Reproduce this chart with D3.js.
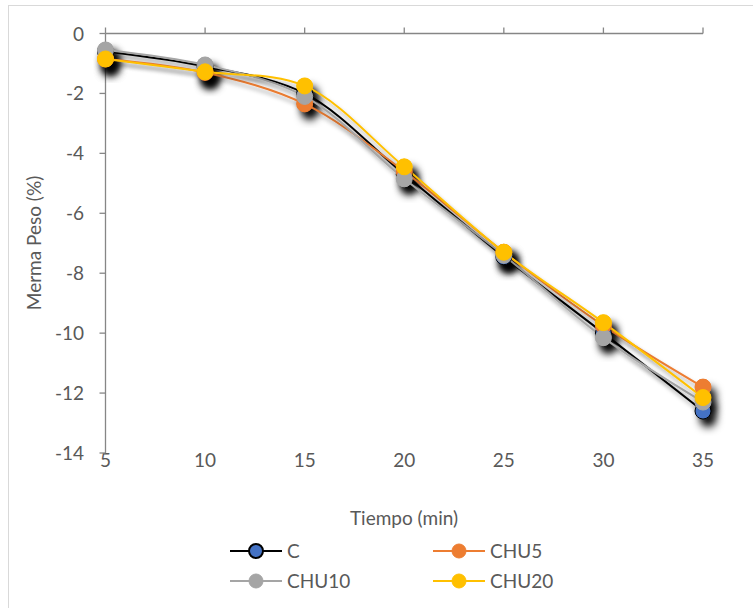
<!DOCTYPE html>
<html>
<head>
<meta charset="utf-8">
<script src="https://cdn.jsdelivr.net/npm/d3@7"></script>
<style>
  body { margin: 0; background: #fff; }
  svg { font-family: Lato, "Open Sans", sans-serif; }
</style>
</head>
<body>
<svg width="753" height="608"></svg>
<script>
const times = [5, 10, 15, 20, 25, 30, 35];
const serieC = [-0.6, -1.1, -2.0, -4.7, -7.45, -10.0, -12.6];
const serieCHU5 = [-0.85, -1.3, -2.35, -4.6, -7.3, -9.75, -11.8];
const serieCHU10 = [-0.55, -1.05, -2.1, -4.85, -7.4, -10.15, -12.3];
const serieCHU20 = [-0.85, -1.28, -1.75, -4.45, -7.3, -9.65, -12.15];
const yTicks = [0, -2, -4, -6, -8, -10, -12, -14];

const series = [
  { name: 'C', values: serieC, line: '#000000', fill: '#4472c4', stroke: '#000000' },
  { name: 'CHU5', values: serieCHU5, line: '#ed7d31', fill: '#ed7d31', stroke: '#ed7d31' },
  { name: 'CHU10', values: serieCHU10, line: '#a5a5a5', fill: '#a5a5a5', stroke: '#a5a5a5' },
  { name: 'CHU20', values: serieCHU20, line: '#ffc000', fill: '#ffc000', stroke: '#ffc000' }
];

const svg = d3.select('svg');
const textColor = '#595959';
const fs = 19;

// chart border
svg.append('rect')
  .attr('x', 8.5).attr('y', 5.5)
  .attr('width', 800).attr('height', 700)
  .attr('fill', '#fff')
  .attr('stroke', '#d9d9d9');

const defs = svg.append('defs');
defs.append('filter').attr('id', 'shadowM')
  .attr('x', '-100%').attr('y', '-100%').attr('width', '300%').attr('height', '300%')
  .append('feDropShadow')
  .attr('dx', 5).attr('dy', 8).attr('stdDeviation', 4)
  .attr('flood-color', '#000').attr('flood-opacity', 1);
defs.append('filter').attr('id', 'shadowL')
  .attr('x', '-10%').attr('y', '-10%').attr('width', '120%').attr('height', '120%')
  .append('feDropShadow')
  .attr('dx', 2).attr('dy', 4).attr('stdDeviation', 2)
  .attr('flood-color', '#000').attr('flood-opacity', 0.35);

const x = d3.scaleLinear().domain([5, 35]).range([105.5, 703]);
const y = d3.scaleLinear().domain([0, -14]).range([33.5, 453]);

// x axis at top (value 0), labels at bottom
svg.append('line')
  .attr('x1', x(5)).attr('x2', x(35))
  .attr('y1', y(0)).attr('y2', y(0))
  .attr('stroke', '#868686').attr('stroke-width', 1.3);
svg.selectAll('.xtick').data(times).enter().append('line')
  .attr('x1', d => x(d)).attr('x2', d => x(d))
  .attr('y1', y(0)).attr('y2', y(0) - 6)
  .attr('stroke', '#868686').attr('stroke-width', 1.3);
svg.selectAll('.xlab').data(times).enter().append('text')
  .attr('x', d => x(d)).attr('y', 467)
  .attr('text-anchor', 'middle')
  .attr('font-size', fs).attr('fill', textColor)
  .text(d => d);

// y axis
svg.append('line')
  .attr('x1', x(5)).attr('x2', x(5))
  .attr('y1', y(0)).attr('y2', y(-14))
  .attr('stroke', '#868686').attr('stroke-width', 1.3);
svg.selectAll('.ytick').data(yTicks).enter().append('line')
  .attr('x1', x(5) - 6).attr('x2', x(5))
  .attr('y1', d => y(d)).attr('y2', d => y(d))
  .attr('stroke', '#868686').attr('stroke-width', 1.3);
svg.selectAll('.ylab').data(yTicks).enter().append('text')
  .attr('x', 84).attr('y', d => y(d) + 7)
  .attr('text-anchor', 'end')
  .attr('font-size', fs).attr('fill', textColor)
  .text(d => d === 0 ? '0' : '-' + Math.abs(d));

// axis titles
svg.append('text')
  .attr('x', 404).attr('y', 525)
  .attr('text-anchor', 'middle')
  .attr('font-size', fs).attr('fill', textColor)
  .text('Tiempo (min)');
svg.append('text')
  .attr('transform', 'translate(41,243) rotate(-90)')
  .attr('text-anchor', 'middle')
  .attr('font-size', fs).attr('fill', textColor)
  .text('Merma Peso (%)');

const line = d3.line()
  .x((d, i) => x(times[i]))
  .y(d => y(d))
  .curve(d3.curveCatmullRom.alpha(0.5));

// shadows of markers first
series.forEach(s => {
  svg.append('g').selectAll('circle').data(s.values).enter().append('circle')
    .attr('cx', (d, i) => x(times[i]))
    .attr('cy', d => y(d))
    .attr('r', 8)
    .attr('fill', s.fill)
    .attr('filter', 'url(#shadowM)');
});

series.forEach(s => {
  svg.append('path')
    .datum(s.values)
    .attr('d', line)
    .attr('fill', 'none')
    .attr('stroke', s.line)
    .attr('stroke-width', 2)
    .attr('filter', 'url(#shadowL)');
});

series.forEach(s => {
  svg.append('g').selectAll('circle').data(s.values).enter().append('circle')
    .attr('cx', (d, i) => x(times[i]))
    .attr('cy', d => y(d))
    .attr('r', 8)
    .attr('fill', s.fill)
    .attr('stroke', s.stroke)
    .attr('stroke-width', 1);
});

// legend
const legendPos = [
  { x: 230, y: 551 },
  { x: 433, y: 551 },
  { x: 230, y: 581 },
  { x: 433, y: 581 }
];
series.forEach((s, i) => {
  const p = legendPos[i];
  const g = svg.append('g').attr('transform', `translate(${p.x},${p.y})`);
  g.append('line')
    .attr('x1', 0).attr('x2', 52)
    .attr('y1', 0).attr('y2', 0)
    .attr('stroke', s.line).attr('stroke-width', 2);
  g.append('circle')
    .attr('cx', 26).attr('cy', 0).attr('r', 7)
    .attr('fill', s.fill)
    .attr('stroke', s.stroke).attr('stroke-width', s.name === 'C' ? 2 : 1);
  g.append('text')
    .attr('x', 57).attr('y', 7)
    .attr('font-size', fs).attr('fill', textColor)
    .text(s.name);
});
</script>
</body>
</html>
